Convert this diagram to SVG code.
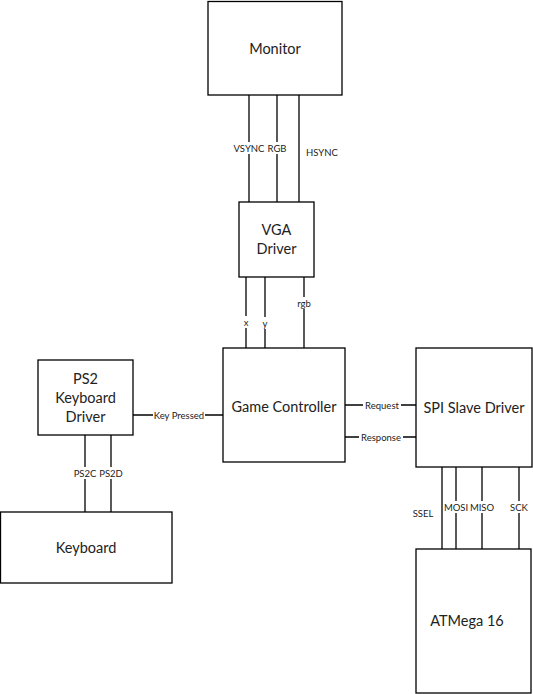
<svg xmlns="http://www.w3.org/2000/svg" width="533" height="694" viewBox="0 0 533 694">
<style>
.box{fill:#fff;stroke:#000;stroke-width:1.3}
.t{font-family:Lato,"Open Sans",sans-serif;font-size:14.5px;fill:#222;text-anchor:middle;dominant-baseline:central}
.l{font-family:Lato,"Open Sans",sans-serif;font-size:9.5px;fill:#222;text-anchor:middle;dominant-baseline:central}
.w{fill:#fff}
line{stroke:#000;stroke-width:1.3}
</style>
<rect width="533" height="694" fill="#fff"/>
<g id="connectors">
<line x1="249" y1="95" x2="249" y2="202"/>
<line x1="277" y1="95" x2="277" y2="202"/>
<line x1="299" y1="95" x2="299" y2="202"/>
<line x1="246" y1="277" x2="246" y2="348"/>
<line x1="265" y1="277" x2="265" y2="348"/>
<line x1="304" y1="277" x2="304" y2="348"/>
<line x1="133" y1="415" x2="223" y2="415"/>
<line x1="85" y1="435" x2="85" y2="512"/>
<line x1="111" y1="435" x2="111" y2="512"/>
<line x1="345" y1="405" x2="416" y2="405"/>
<line x1="345" y1="437" x2="416" y2="437"/>
<line x1="442" y1="467" x2="442" y2="549"/>
<line x1="456" y1="467" x2="456" y2="549"/>
<line x1="482" y1="467" x2="482" y2="549"/>
<line x1="519" y1="467" x2="519" y2="549"/>
<rect class="w" x="232" y="142" width="34" height="12"/><text class="l" x="249" y="148">VSYNC</text>
<rect class="w" x="267" y="142" width="20" height="12"/><text class="l" x="277" y="148">RGB</text>
<text class="l" x="322" y="152">HSYNC</text>
<rect class="w" x="242" y="316" width="8" height="12"/><text class="l" x="246" y="322">x</text>
<rect class="w" x="261" y="317" width="8" height="12"/><text class="l" x="265" y="323">y</text>
<rect class="w" x="297" y="297" width="14" height="12"/><text class="l" x="304" y="303">rgb</text>
<rect class="w" x="153" y="409" width="52" height="12"/><text class="l" x="179" y="415">Key Pressed</text>
<rect class="w" x="73" y="467" width="24" height="12"/><text class="l" x="85" y="473">PS2C</text>
<rect class="w" x="99" y="467" width="24" height="12"/><text class="l" x="111" y="473">PS2D</text>
<rect class="w" x="363" y="399" width="38" height="12"/><text class="l" x="382" y="405">Request</text>
<rect class="w" x="359" y="431" width="44" height="12"/><text class="l" x="381" y="437">Response</text>
<text class="l" x="423" y="513">SSEL</text>
<rect class="w" x="444" y="501" width="24" height="12"/><text class="l" x="456" y="507">MOSI</text>
<rect class="w" x="470" y="501" width="24" height="12"/><text class="l" x="482" y="507">MISO</text>
<rect class="w" x="510" y="501" width="18" height="12"/><text class="l" x="519" y="507">SCK</text>
</g>
<g id="monitor"><rect class="box" x="208" y="1.5" width="134" height="93.5"/><text class="t" x="275" y="48">Monitor</text></g>
<g id="vga"><rect class="box" x="239" y="202" width="75" height="75"/><text class="t" x="276.5" y="229">VGA</text><text class="t" x="276.5" y="248">Driver</text></g>
<g id="game"><rect class="box" x="223" y="348" width="122" height="114"/><text class="t" x="284" y="406">Game Controller</text></g>
<g id="ps2"><rect class="box" x="38" y="360" width="95" height="75"/><text class="t" x="85.5" y="378">PS2</text><text class="t" x="85.5" y="397">Keyboard</text><text class="t" x="85.5" y="416">Driver</text></g>
<g id="keyboard"><rect class="box" x="0.5" y="512" width="171.5" height="71"/><text class="t" x="86" y="547">Keyboard</text></g>
<g id="spi"><rect class="box" x="416" y="348" width="116" height="119"/><text class="t" x="474" y="407">SPI Slave Driver</text></g>
<g id="atmega"><rect class="box" x="416" y="549" width="115" height="144"/><text class="t" x="467" y="620">ATMega 16</text></g>
</svg>
